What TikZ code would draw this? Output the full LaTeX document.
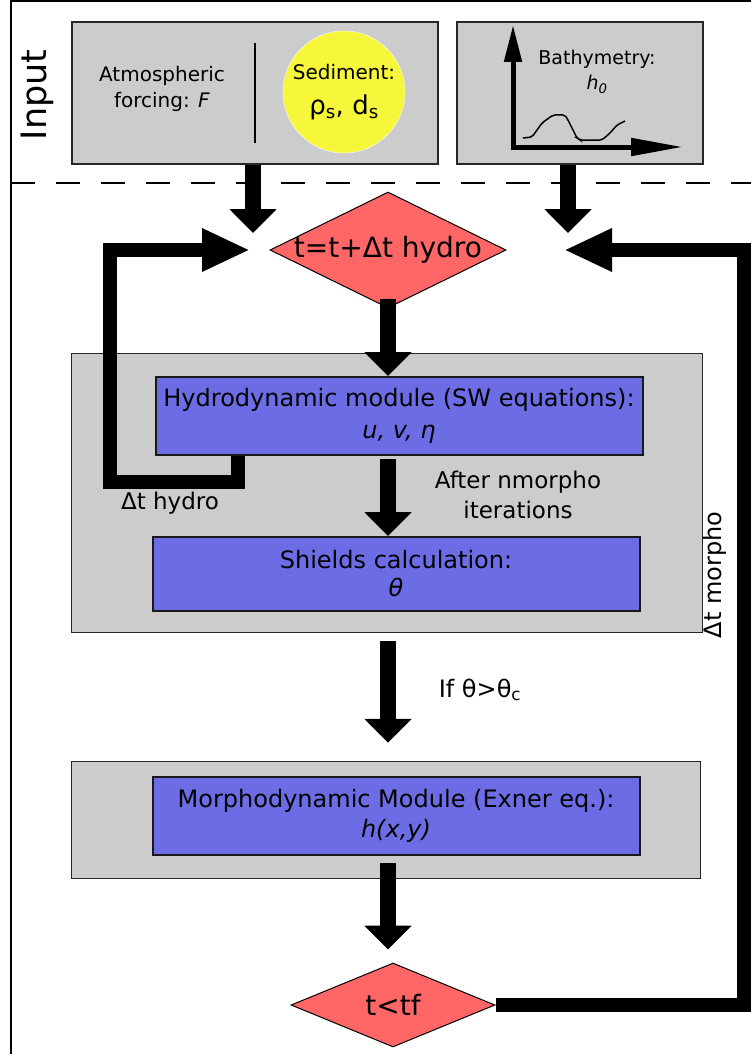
\documentclass[tikz,border=0pt]{standalone}
\usepackage{fontspec}
\setmainfont{DejaVu Sans}
\usetikzlibrary{arrows.meta, shapes.geometric}

\definecolor{boxgray}{RGB}{204,204,204}
\definecolor{modblue}{RGB}{108,108,229}
\definecolor{decred}{RGB}{255,102,102}
\definecolor{sedyellow}{RGB}{246,246,58}

\tikzset{
  graybox/.style={draw=black!85, fill=boxgray, line width=1.5pt, inner sep=0pt},
  modbox/.style={draw=black!90, fill=modblue, line width=2pt, inner sep=0pt, align=center, minimum width=487pt},
  decision/.style={diamond, draw=black, fill=decred, line width=1pt, inner sep=0pt, label={[font=\fontsize{28}{30}\selectfont]center:#1}},
  bigarrow/.style={line width=16pt, -{Triangle[width=46pt,length=24pt]}},
  looparrow/.style={line width=14pt, line join=miter, -{Triangle[width=40pt,length=48pt]}},
  axisarrow/.style={line width=5pt, -{Triangle[width=17pt,length=#1]}},
}

\begin{document}
\begin{tikzpicture}[x=1pt,y=-1pt]
\useasboundingbox (0,0) rectangle (751,1054);
\draw[line width=1.5pt] (11,1054) -- (11,1) -- (751,1);
\draw[line width=1.5pt, dash pattern=on 24pt off 21pt] (11,183) -- (751,183);
\node[rotate=90, font=\fontsize{35}{40}\selectfont] (inlabel) at (37,95) {Input};

% input boxes
\node[graybox, minimum width=366pt, minimum height=142pt] (forcing) at (255,93) {};
\draw[line width=1.5pt] (255,43) -- (255,143);
\node[align=center, font=\fontsize{20}{26}\selectfont] (atmo) at (162,89) {Atmospheric\\forcing: \textit{F}};
\node[circle, draw=white, fill=sedyellow, minimum size=122pt, inner sep=0pt, align=center, font=\fontsize{20}{26}\selectfont] (sed) at (344,92) {Sediment:\\[9pt]{\fontsize{26}{30}\selectfont ρ\textsubscript{s}, d\textsubscript{s}}};

\node[graybox, minimum width=246pt, minimum height=142pt] (bathy) at (580,93) {};
\draw[axisarrow=37pt] (513,150) -- (513,25);
\draw[axisarrow=52pt] (511,147) -- (683,147);
\draw[line width=1.5pt, rounded corners=2pt] (523,138) -- (532,137) -- (542,123) -- (553,115) -- (565,115) -- (568,120) -- (577,138) -- (580,140) -- (602,140) -- (610,133) -- (617,125) -- (625,121);
\node[align=center, font=\fontsize{19}{25}\selectfont] (bathytext) at (597,72) {Bathymetry:\\\textit{h\textsubscript{0}}};

% time loop
\node[decision={t=t+Δt hydro}, minimum width=236pt, minimum height=116pt] (hstep) at (388,250) {};
\node[graybox, minimum width=631pt, minimum height=279pt] (core) at (387,493) {};
\node[modbox, minimum height=78pt, font=\fontsize{24}{32}\selectfont] (hydro) at (399,416) {Hydrodynamic module (SW equations):\\\textit{u, v, η}};
\node[modbox, minimum height=74pt, font=\fontsize{24}{28}\selectfont] (shields) at (396,574) {Shields calculation:\\\textit{θ}};
\node[graybox, minimum width=629pt, minimum height=117pt] (morphzone) at (386,820) {};
\node[modbox, minimum height=78pt, font=\fontsize{24}{30}\selectfont] (morph) at (396,816) {Morphodynamic Module (Exner eq.):\\\textit{h(x,y)}};
\node[decision={t<tf}, minimum width=204pt, minimum height=84pt] (tcheck) at (393,1005) {};

\node[font=\fontsize{23}{30}\selectfont] (dth) at (170,503) {Δt hydro};
\node[align=center, font=\fontsize{23}{30}\selectfont] (nmorpho) at (518,495) {After nmorpho\\iterations};
\node[font=\fontsize{24}{30}\selectfont] (cond) at (480,690) {If θ>θ\textsubscript{c}};
\node[rotate=90, font=\fontsize{24}{30}\selectfont] (dtm) at (715,575) {Δt morpho};

\coordinate (inA) at (253,233);
\coordinate (inB) at (568,233);
\coordinate (backL) at (250,250);
\coordinate (backR) at (564,250);
\coordinate (stubx) at (238,482);

\draw[bigarrow] (forcing.south -| inA) -- (inA);
\draw[bigarrow] (bathy.south -| inB) -- (inB);
\draw[bigarrow] ([yshift=10pt]hstep.south) -- (hstep.south |- hydro.north);
\draw[bigarrow] ([yshift=-3pt]hydro.south -| hstep) -- (shields.north -| hstep);
\draw[bigarrow] ([yshift=-8pt]core.south -| hstep) -- ([yshift=18pt]morphzone.north -| hstep);
\draw[bigarrow] ([yshift=-7pt]morph.south -| hstep) -- ([yshift=13pt]tcheck.north -| hstep);
\draw[looparrow] (hydro.south -| stubx) -- (stubx) -- (110,482) -- (110,250) -- (backL);
\draw[looparrow] (tcheck.east) -- (744,1005) -- (744,250) -- (backR);
\end{tikzpicture}
\end{document}
